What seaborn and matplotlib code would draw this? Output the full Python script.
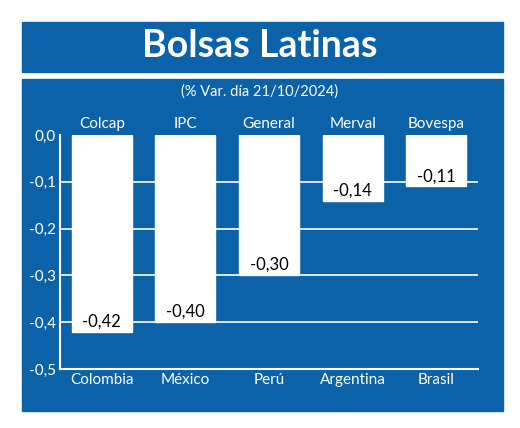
import matplotlib.pyplot as plt
import seaborn as sns
import pandas as pd
from matplotlib.patches import Rectangle

paises = ["Colombia", "México", "Perú", "Argentina", "Brasil"]
indices = ["Colcap", "IPC", "General", "Merval", "Bovespa"]
variacion = [-0.42, -0.40, -0.30, -0.14, -0.11]
yticks = [0.0, -0.1, -0.2, -0.3, -0.4, -0.5]

azul = "#0b62a8"
sns.set_style("white")
plt.rcParams["font.family"] = ["Lato", "DejaVu Sans"]

fig = plt.figure(figsize=(5.2, 4.28), dpi=100)
fig.patch.set_facecolor("white")
# cajas azules de fondo
fig.add_artist(Rectangle((22/520, 1-72/428), 481/520, 50/428, transform=fig.transFigure, color=azul, zorder=0))
fig.add_artist(Rectangle((22/520, 1-411/428), 481/520, 332/428, transform=fig.transFigure, color=azul, zorder=0))
fig.text(0.5, 1-46/428, "Bolsas Latinas", color="white", fontsize=27, fontweight="bold", ha="center", va="center")
fig.text(0.5, 1-92/428, "(% Var. día 21/10/2024)", color="white", fontsize=10.5, ha="center", va="center")

ax = fig.add_axes([60/520, 1-369/428, 418/520, 234/428])
ax.set_facecolor("none")
df = pd.DataFrame({"pais": paises, "var": variacion})
sns.barplot(data=df, x="pais", y="var", color="white", width=0.72, saturation=1, ax=ax, zorder=3)
ax.set_xlim(-0.5, 4.5)
ax.set_ylim(-0.5, 0.0)
ax.set_yticks(yticks)
ax.set_yticklabels([f"{t:.1f}".replace(".", ",") for t in yticks], color="white", fontsize=11)
ax.set_xticks(range(len(paises)))
ax.set_xticklabels(paises, color="white", fontsize=11)
ax.tick_params(length=0, pad=3)
ax.set_xlabel("")
ax.set_ylabel("")
for t in yticks[1:-1]:
    ax.axhline(t, color="white", lw=1.2, zorder=1)
for s in ["top", "right"]:
    ax.spines[s].set_visible(False)
for s in ["left", "bottom"]:
    ax.spines[s].set_color("white")
    ax.spines[s].set_linewidth(1.5)
for i, (v, nombre) in enumerate(zip(variacion, indices)):
    ax.text(i, v + 0.005, f"{v:.2f}".replace(".", ","), ha="center", va="bottom", fontsize=12, color="black", zorder=4)
    ax.text(i, 0.008, nombre, ha="center", va="bottom", fontsize=11, color="white")

fig.savefig("out.png", dpi=100)
